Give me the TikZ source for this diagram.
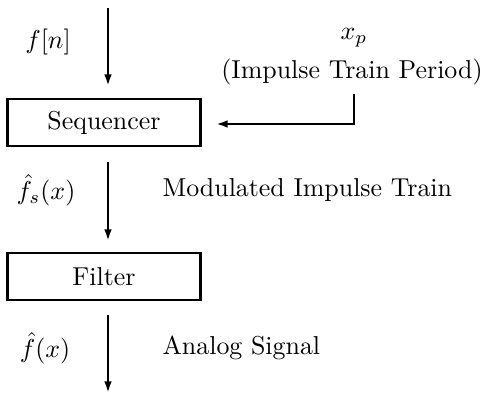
\documentclass[tikz,border=0pt]{standalone}
\usepackage{amsmath}
\usetikzlibrary{arrows.meta}

\tikzset{
	blockbox/.style={draw, line width=0.9pt, minimum width=74.5pt, minimum height=18pt, inner sep=0pt},
	flow/.style={line width=1pt, -{Latex[length=4.5pt,width=3pt]}}
}

\begin{document}
\begin{tikzpicture}[x=0.386pt, y=-0.386pt]
	\useasboundingbox (0,0) rectangle (500,393);
	\node[blockbox] (seq) at (104,122.5) {Sequencer};
	\node[blockbox] (filt) at (104,276.5) {Filter};
	\coordinate (in) at (108,8);
	\coordinate (seqtop) at (108,86);
	\coordinate (seqbot) at (108,162);
	\coordinate (filttop) at (108,241);
	\coordinate (filtbot) at (108,315);
	\coordinate (out) at (108,393);
	\draw (48,42) node (fn) {$f[n]$};
	\draw (354,38) node (xp) {$x_p$};
	\draw (352,72) node (period) {(Impulse Train Period)};
	\coordinate (corner) at (354,124);
	\coordinate (seqin) at (216,124);
	\draw (46,190) node (fs) {$\hat{f}_s(x)$};
	\draw (162,190) node[anchor=west, inner sep=0pt] (mod) {Modulated Impulse Train};
	\draw (45,348) node (fx) {$\hat{f}(x)$};
	\draw (162,348) node[anchor=west, inner sep=0pt] (analog) {Analog Signal};
	\draw[flow] (in) -- (seqtop);
	\draw[flow] (seqbot) -- (filttop);
	\draw[flow] (filtbot) -- (out);
	\draw[flow] (period.south -| corner) -- (corner) -- (seqin);
\end{tikzpicture}
\end{document}
